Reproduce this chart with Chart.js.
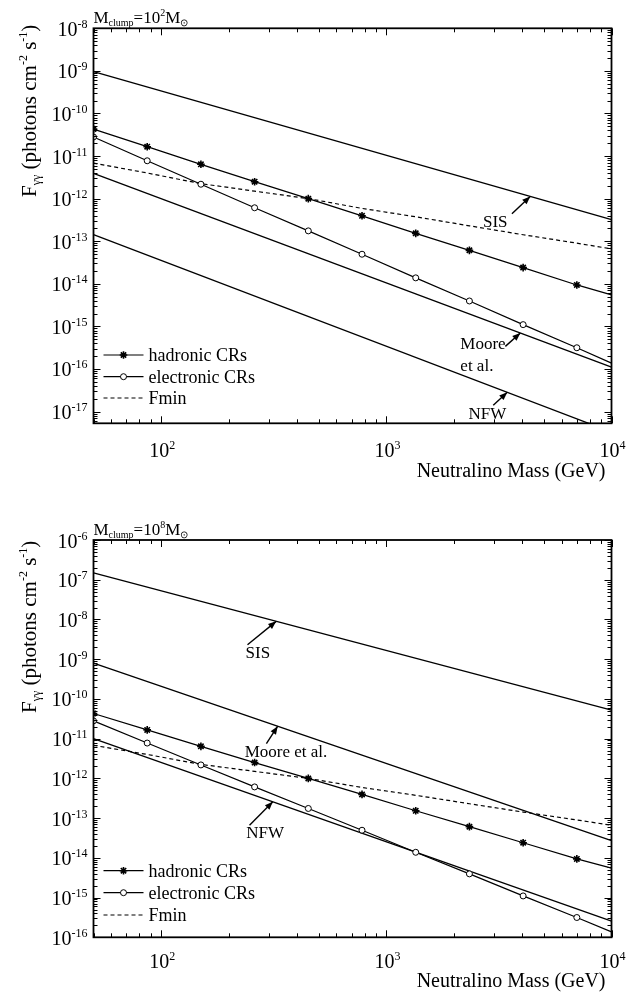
<!DOCTYPE html>
<html><head><meta charset="utf-8">
<script src="https://cdn.jsdelivr.net/npm/chart.js@4.4.0/dist/chart.umd.min.js"></script>
<style>
html,body{margin:0;padding:0;background:#fff;}
#wrap{position:relative;width:641px;height:996px;background:#fff;}
.pane{position:absolute;left:0;width:641px;height:498px;}
canvas{display:block;}
</style></head><body>
<div id="wrap">
<div class="pane" style="top:0"><canvas id="c1" width="641" height="498"></canvas></div>
<div class="pane" style="top:498px"><canvas id="c2" width="641" height="498"></canvas></div>
</div>
<script>
// ---- data ----
const masses = [50, 86.6, 150, 259.8, 450, 779.4, 1350, 2338, 4050, 7015, 10000];
const hadronic = [4.3e-11, 1.66e-11, 6.4e-12, 2.5e-12, 1.0e-12, 3.95e-13, 1.53e-13, 6.1e-14, 2.4e-14, 9.4e-15, 5.5e-15];
const electronic = [2.8e-11, 7.75e-12, 2.18e-12, 6.1e-13, 1.75e-13, 4.95e-14, 1.38e-14, 3.95e-15, 1.1e-15, 3.15e-16, 1.37e-16];
const fmin = [6.8e-12, 4.0e-12, 2.25e-12, 1.5e-12, 1.0e-12, 5.9e-13, 3.75e-13, 2.3e-13, 1.42e-13, 9.0e-14, 6.6e-14];
const profileMasses = [50, 10000];
const sisTop = [9.6e-10, 3.2e-13];
const mooreTop = [3.9e-12, 1.11e-16];
const nfwTop = [1.43e-13, 3.3e-18];
const sisBottom = [1.48e-7, 5.2e-11];
const mooreBottom = [8.0e-10, 2.7e-14];
const nfwBottom = [1.0e-11, 2.57e-16];
const xTickExps = [2, 3, 4];
const yTickExpsTop = [-8, -9, -10, -11, -12, -13, -14, -15, -16, -17];
const yTickExpsBottom = [-6, -7, -8, -9, -10, -11, -12, -13, -14, -15, -16];
const clumpExpTop = '2';
const clumpExpBottom = '8';

const SERIF = '"Liberation Serif", "Times New Roman", serif';
const font = s => `${s}px ${SERIF}`;

function pts(xs, ys) { return xs.map((x, i) => ({x: x, y: ys[i]})); }

function rich(ctx, parts, x, y, align) {
  let w = 0;
  const ws = parts.map(p => { ctx.font = font(p[1]); const m = ctx.measureText(p[0]).width; w += m; return m; });
  let cx = align === 'right' ? x - w : align === 'center' ? x - w / 2 : x;
  ctx.textAlign = 'left';
  ctx.textBaseline = 'alphabetic';
  parts.forEach((p, i) => { ctx.font = font(p[1]); ctx.fillText(p[0], cx, y + (p[2] || 0)); cx += ws[i]; });
}

function arrow(ctx, x1, y1, x2, y2) {
  ctx.beginPath(); ctx.moveTo(x1, y1); ctx.lineTo(x2, y2); ctx.lineWidth = 1.4; ctx.stroke();
  const ang = Math.atan2(y2 - y1, x2 - x1), L = 8, H = 3.2;
  ctx.beginPath();
  ctx.moveTo(x2, y2);
  ctx.lineTo(x2 - L * Math.cos(ang) + H * Math.sin(ang), y2 - L * Math.sin(ang) - H * Math.cos(ang));
  ctx.lineTo(x2 - L * Math.cos(ang) - H * Math.sin(ang), y2 - L * Math.sin(ang) + H * Math.cos(ang));
  ctx.closePath(); ctx.fill();
}

function lineYAt(chart, dsIndex, px) {
  const els = chart.getDatasetMeta(dsIndex).data;
  for (let i = 0; i < els.length - 1; i++) {
    const a = els[i], b = els[i + 1];
    if (px >= a.x && px <= b.x) return a.y + (b.y - a.y) * (px - a.x) / (b.x - a.x);
  }
  return els[els.length - 1].y;
}

function makePanel(p) {
  const datasets = [
    {label: 'hadronic CRs', data: pts(masses, hadronic), borderColor: '#000', borderWidth: 1.2,
     pointStyle: 'star', pointRadius: masses.map((m, i) => i === masses.length - 1 ? 0 : 3.8),
     pointBorderColor: '#000', pointBackgroundColor: '#000', pointBorderWidth: 1.6},
    {label: 'electronic CRs', data: pts(masses, electronic), borderColor: '#000', borderWidth: 1.2,
     pointStyle: 'circle', pointRadius: masses.map((m, i) => i === masses.length - 1 ? 0 : 3),
     pointBorderColor: '#000', pointBackgroundColor: '#fff', pointBorderWidth: 1},
    {label: 'Fmin', data: pts(masses, fmin), borderColor: '#000', borderWidth: 1.2, borderDash: [4, 3], pointRadius: 0},
    {label: 'SIS', data: pts(profileMasses, p.sis), borderColor: '#000', borderWidth: 1.3, pointRadius: 0},
    {label: 'Moore', data: pts(profileMasses, p.moore), borderColor: '#000', borderWidth: 1.3, pointRadius: 0},
    {label: 'NFW', data: pts(profileMasses, p.nfw), borderColor: '#000', borderWidth: 1.3, pointRadius: 0}
  ];
  const decor = {
    id: 'decor',
    afterDraw(chart) {
      const ctx = chart.ctx, a = chart.chartArea, xs = chart.scales.x, ys = chart.scales.y;
      ctx.save();
      ctx.fillStyle = '#000'; ctx.strokeStyle = '#000';
      // ticks
      ctx.lineWidth = 1;
      ctx.beginPath();
      for (let k = -20; k <= 0; k++) for (let m = 1; m <= 9; m++) {
        const v = m * Math.pow(10, k);
        if (v < ys.min * 0.999 || v > ys.max * 1.001) continue;
        const y = Math.round(ys.getPixelForValue(v)) + 0.5;
        const len = m === 1 ? 7 : 4;
        ctx.moveTo(a.left, y); ctx.lineTo(a.left + len, y);
        ctx.moveTo(a.right, y); ctx.lineTo(a.right - len, y);
      }
      for (let k = 1; k <= 4; k++) for (let m = 1; m <= 9; m++) {
        const v = m * Math.pow(10, k);
        if (v < xs.min * 0.999 || v > xs.max * 1.001) continue;
        const x = Math.round(xs.getPixelForValue(v)) + 0.5;
        const len = m === 1 ? 7 : 4;
        ctx.moveTo(x, a.bottom); ctx.lineTo(x, a.bottom - len);
        ctx.moveTo(x, a.top); ctx.lineTo(x, a.top + len);
      }
      ctx.stroke();
      // frame
      ctx.lineWidth = 1.8;
      ctx.strokeRect(a.left, a.top, a.right - a.left, a.bottom - a.top);
      // y tick labels
      p.yExps.forEach(e => {
        const y = ys.getPixelForValue(Math.pow(10, e));
        rich(ctx, [['10', 20, 0], [String(e), 12, -8]], a.left - 6, y + 7.5, 'right');
      });
      // x tick labels
      xTickExps.forEach(e => {
        const x = xs.getPixelForValue(Math.pow(10, e));
        rich(ctx, [['10', 20, 0], [String(e), 12, -8]], x + 1, a.bottom + p.xLabelDy, 'center');
      });
      // x title
      rich(ctx, [['Neutralino Mass (GeV)', 20, 0]], a.right - 6, a.bottom + p.xTitleDy, 'right');
      // y title
      ctx.save();
      ctx.translate(36, p.yTitleStart);
      ctx.rotate(-Math.PI / 2);
      rich(ctx, [['F', 21, 0], ['\u03b3\u03b3', 12, 4], [' (photons cm', 21, 0], ['-2', 12, -9], [' s', 21, 0], ['-1', 12, -9], [')', 21, 0]], 0, 0, 'left');
      ctx.restore();
      // panel title
      rich(ctx, [['M', 17, 0], ['clump', 10, 3], ['=10', 17, 0], [p.clumpExp, 10, -7], ['M', 17, 0], ['\u2299', 10, 3]], a.left, p.titleY, 'left');
      // annotations
      p.notes.forEach(n => {
        const tx = xs.getPixelForValue(n.x);
        const ty = lineYAt(chart, n.ds, tx);
        arrow(ctx, tx + n.tail[0], ty + n.tail[1], tx, ty);
        n.texts.forEach(t => rich(ctx, [[t[0], 17, 0]], tx + t[1], ty + t[2], t[3] || 'left'));
      });
      // legend
      const lx0 = a.left + 10, lx1 = a.left + 50, mx = a.left + 30, txx = a.left + 55;
      p.legendY.forEach((dy, i) => {
        const y = a.bottom - dy;
        ctx.lineWidth = 1.2;
        ctx.setLineDash(i === 2 ? [4, 3] : []);
        ctx.beginPath(); ctx.moveTo(lx0, y); ctx.lineTo(lx1, y); ctx.stroke();
        ctx.setLineDash([]);
        if (i === 0) {
          ctx.lineWidth = 1.6; ctx.beginPath();
          const r = 3.8;
          for (let q = 0; q < 4; q++) { const an = q * Math.PI / 4; ctx.moveTo(mx - r * Math.cos(an), y - r * Math.sin(an)); ctx.lineTo(mx + r * Math.cos(an), y + r * Math.sin(an)); }
          ctx.stroke();
        } else if (i === 1) {
          ctx.lineWidth = 1; ctx.beginPath(); ctx.arc(mx, y, 3, 0, Math.PI * 2); ctx.fillStyle = '#fff'; ctx.fill(); ctx.stroke(); ctx.fillStyle = '#000';
        }
        rich(ctx, [[['hadronic CRs', 'electronic CRs', 'Fmin'][i], 18, 0]], txx, y + 6, 'left');
      });
      ctx.restore();
    }
  };
  return new Chart(document.getElementById(p.id), {
    type: 'line',
    data: {datasets: datasets},
    options: {
      responsive: false, animation: false, devicePixelRatio: 1,
      layout: {autoPadding: false, padding: p.pad},
      scales: {
        x: {type: 'logarithmic', min: 50, max: 10000, display: false},
        y: {type: 'logarithmic', min: p.yMin, max: p.yMax, display: false}
      },
      plugins: {legend: {display: false}, tooltip: {enabled: false}}
    },
    plugins: [decor]
  });
}

makePanel({
  id: 'c1', yMin: 5.3e-18, yMax: 1e-8, yExps: yTickExpsTop,
  pad: {top: 28.3, bottom: 74.7, left: 93.5, right: 29.5},
  sis: sisTop, moore: mooreTop, nfw: nfwTop, clumpExp: clumpExpTop,
  xLabelDy: 33.4, xTitleDy: 53.7, yTitleStart: 197, titleY: 23.3,
  legendY: [68.3, 46.6, 25.3],
  notes: [
    {ds: 3, x: 4355, tail: [-18.3, 17.3], texts: [['SIS', -35, 31, 'center']]},
    {ds: 4, x: 3936, tail: [-15, 13.4], texts: [['Moore', -60, 16.5], ['et al.', -60, 38.5]]},
    {ds: 5, x: 3443, tail: [-14, 13], texts: [['NFW', -38.7, 27]]}
  ]
});
makePanel({
  id: 'c2', yMin: 1e-16, yMax: 1e-6, yExps: yTickExpsBottom,
  pad: {top: 42, bottom: 58.7, left: 93.5, right: 29.5},
  sis: sisBottom, moore: mooreBottom, nfw: nfwBottom, clumpExp: clumpExpBottom,
  xLabelDy: 31, xTitleDy: 49.7, yTitleStart: 215, titleY: 37,
  legendY: [66.6, 44.6, 22.3],
  notes: [
    {ds: 3, x: 324, tail: [-28.7, 23.4], texts: [['SIS', -18.3, 36.7, 'center']]},
    {ds: 4, x: 329, tail: [-11.3, 17.3], texts: [['Moore et al.', -33, 30.5]]},
    {ds: 5, x: 313, tail: [-23.3, 23.4], texts: [['NFW', -26.6, 36.7]]}
  ]
});
</script>
</body></html>
